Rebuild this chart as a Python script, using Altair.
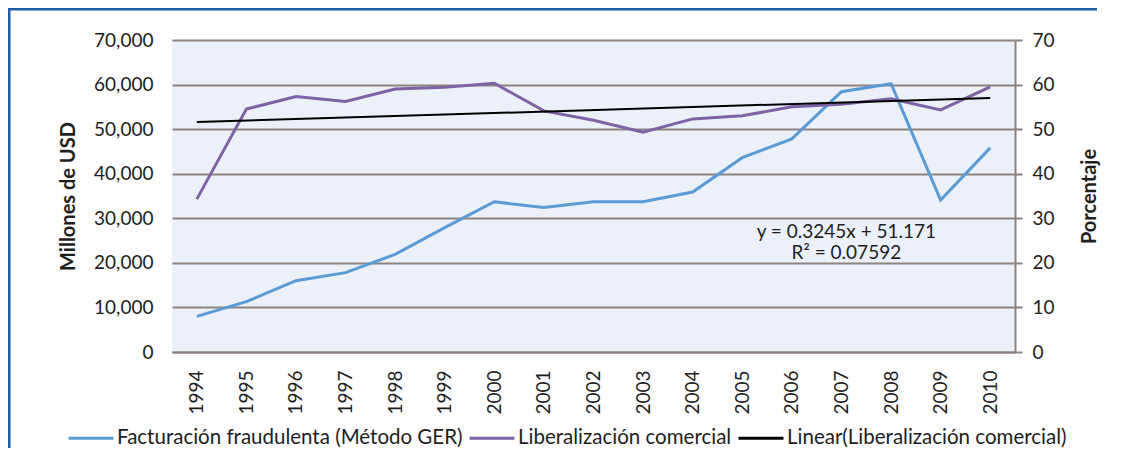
import altair as alt
import pandas as pd

years = list(range(1994, 2011))
facturacion = [8000, 11300, 16000, 17800, 21900, 27900, 33700, 32400, 33700, 33700,
               35900, 43600, 47800, 58400, 60200, 34100, 45800]
liberalizacion = [34.3, 54.5, 57.3, 56.2, 59.0, 59.4, 60.3, 54.1, 52.0, 49.3,
                  52.3, 53.0, 55.0, 55.6, 56.8, 54.3, 59.5]
series_names = ["Facturación fraudulenta (Método GER)", "Liberalización comercial",
                "Linear(Liberalización comercial)"]
series_colors = ["#5b9bd5", "#7d63a6", "#000000"]
eq_lines = ["y = 0.3245x + 51.171", "R² = 0.07592"]
eq_year = [2007.1, 2007.1]
eq_pct = [26.9, 22.2]

FONT = "Lato"
TXT = "#1e1e1e"
FRAME = "#1f5aa6"

df_a = pd.DataFrame({"year": years, "val": facturacion})
df_b = pd.DataFrame({"year": years, "pct": liberalizacion})
df_eq = pd.DataFrame({"year": eq_year, "pct": eq_pct, "txt": eq_lines})

x_enc = alt.X("year:Q", scale=alt.Scale(domain=[1993.5, 2010.5], nice=False, zero=False),
              axis=alt.Axis(values=years, format="d", labelAngle=270, labelFontSize=19,
                            labelFont=FONT, labelColor=TXT, labelPadding=18,
                            ticks=False, grid=False, domainColor="#8d8380",
                            domainWidth=2, title=None))

color_scale = alt.Scale(domain=series_names, range=series_colors)
legend = alt.Legend(orient="none", legendX=-105, legendY=374, direction="horizontal",
                    title=None, symbolType="stroke", symbolSize=2025,
                    symbolStrokeWidth=3, labelFont=FONT, labelFontSize=20.5,
                    labelColor=TXT, labelOffset=2, columnPadding=0, labelLimit=0)

left = alt.Chart(df_a).mark_line(strokeWidth=3).encode(
    x=x_enc,
    y=alt.Y("val:Q", scale=alt.Scale(domain=[0, 70000]),
            axis=alt.Axis(values=list(range(0, 70001, 10000)), format=",d",
                          labelFontSize=19, labelFont=FONT, labelColor=TXT,
                          labelPadding=19, ticks=False, domain=False,
                          grid=True, gridColor="#8d8380", gridWidth=2,
                          title="Millones de USD", titleFont=FONT, titleFontSize=20,
                          titleFontWeight="bold", titleColor=TXT, titlePadding=15)),
    color=alt.Color("s:N", scale=color_scale, legend=legend),
).transform_calculate(s="'" + series_names[0] + "'")

right_axis = alt.Axis(values=list(range(0, 71, 10)), labelFontSize=19, labelFont=FONT,
                      labelColor=TXT, labelPadding=10, ticks=True, tickSize=7,
                      tickColor="#8d8380", tickWidth=2, domain=True,
                      domainColor="#8d8380", domainWidth=2, grid=False,
                      title="Porcentaje", titleFont=FONT, titleFontSize=20,
                      titleFontWeight="bold", titleColor=TXT, titlePadding=45,
                      titleAngle=270, orient="right")
y_right = alt.Y("pct:Q", scale=alt.Scale(domain=[0, 70]), axis=right_axis)

purple = alt.Chart(df_b).mark_line(strokeWidth=3).encode(
    x=alt.X("year:Q"),
    y=y_right,
    color=alt.Color("s:N", scale=color_scale, legend=legend),
).transform_calculate(s="'" + series_names[1] + "'")

trend = alt.Chart(df_b).transform_regression("year", "pct").transform_calculate(
    s="'" + series_names[2] + "'"
).mark_line(strokeWidth=2).encode(
    x=alt.X("year:Q"),
    y=alt.Y("pct:Q"),
    color=alt.Color("s:N", scale=color_scale, legend=legend),
)

eq = alt.Chart(df_eq).mark_text(font=FONT, fontSize=19, color=TXT, align="center",
                                baseline="middle").encode(
    x=alt.X("year:Q"), y=alt.Y("pct:Q"), text="txt:N")

one = pd.DataFrame({"k": [0]})
frame_top = alt.Chart(one).mark_rect(fill=FRAME, strokeWidth=0).encode(
    x=alt.value(-164), x2=alt.value(925), y=alt.value(-32.5), y2=alt.value(-29.5))
frame_left = alt.Chart(one).mark_rect(fill=FRAME, strokeWidth=0).encode(
    x=alt.value(-164.5), x2=alt.value(-161.5), y=alt.value(-32.5), y2=alt.value(420))

right_layer = alt.layer(purple, trend, eq)

chart = alt.layer(frame_top, frame_left, left, right_layer).resolve_scale(
    y="independent").properties(
    width=843, height=312,
    autosize=alt.AutoSizeParams(type="none"),
    padding={"left": 164, "top": 32, "right": 100, "bottom": 96},
    background="white",
).configure_view(fill="#ecf1f9", stroke=None)

chart.save("out.html", embed_options={"renderer": "svg", "actions": False})
